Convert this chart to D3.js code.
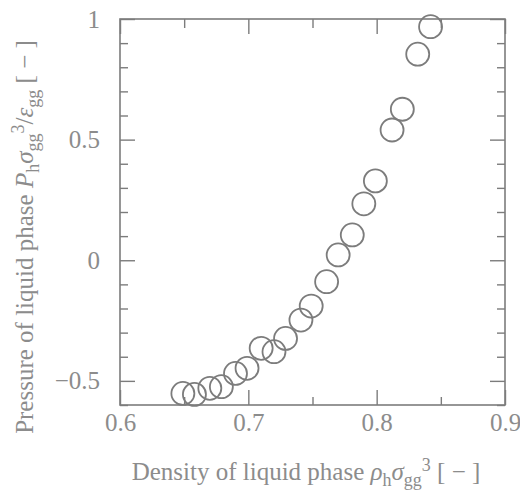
<!DOCTYPE html>
<html>
<head>
<meta charset="utf-8">
<script src="https://cdn.jsdelivr.net/npm/d3@7"></script>
<style>
  body { margin: 0; background: #fff; }
  svg { display: block; }
</style>
</head>
<body>
<div id="chart"></div>
<script>
// Density of liquid phase (x) and pressure of liquid phase (y)
const density = [0.649, 0.658, 0.670, 0.679, 0.690, 0.699, 0.710, 0.720, 0.729, 0.741,
                 0.749, 0.761, 0.770, 0.781, 0.790, 0.799, 0.812, 0.820, 0.832, 0.842];
const pressure = [-0.552, -0.556, -0.531, -0.524, -0.469, -0.448, -0.365, -0.379, -0.324, -0.248,
                  -0.190, -0.089, 0.022, 0.105, 0.234, 0.329, 0.540, 0.626, 0.854, 0.968];

// Tick values
const xMajor = [0.6, 0.7, 0.8, 0.9];
const xMinor = [0.65, 0.75, 0.85];
const yMajor = [-0.5, 0, 0.5, 1];
const yMinor = [-0.6, -0.4, -0.3, -0.2, -0.1, 0.1, 0.2, 0.3, 0.4, 0.6, 0.7, 0.8, 0.9];

const W = 520, H = 503;
const margin = { top: 19, right: 15, bottom: 98, left: 120 };
const width = W - margin.left - margin.right;
const height = H - margin.top - margin.bottom;

const lineColor = "#7c7c7c";
const textColor = "#8c8c8c";
const serif = "'Liberation Serif', 'Times New Roman', Times, serif";

const svg = d3.select("#chart").append("svg")
    .attr("width", W)
    .attr("height", H);

const g = svg.append("g")
    .attr("transform", "translate(" + margin.left + "," + margin.top + ")");

const x = d3.scaleLinear().domain([0.6, 0.9]).range([0, width]);
const y = d3.scaleLinear().domain([-0.6, 1]).range([height, 0]);

// helper to style an axis group
function styleAxis(sel) {
    sel.attr("font-family", serif).attr("font-size", 25);
    sel.select(".domain").remove();
    sel.selectAll("line").attr("stroke", lineColor).attr("stroke-width", 1.4);
    sel.selectAll("text").attr("fill", textColor);
}

const fmtX = d3.format(".1f");
const fmtY = d => d === 0 || d === 1 ? String(d) : d3.format(".1f")(d);

// bottom axis (major with labels, minor without)
g.append("g").attr("transform", "translate(0," + height + ")")
    .call(d3.axisBottom(x).tickValues(xMajor).tickSize(-15).tickPadding(8).tickFormat(fmtX))
    .call(styleAxis);
g.append("g").attr("transform", "translate(0," + height + ")")
    .call(d3.axisBottom(x).tickValues(xMinor).tickSize(-8).tickFormat(""))
    .call(styleAxis);

// top axis
g.append("g")
    .call(d3.axisTop(x).tickValues(xMajor).tickSize(-15).tickFormat(""))
    .call(styleAxis);
g.append("g")
    .call(d3.axisTop(x).tickValues(xMinor).tickSize(-9).tickFormat(""))
    .call(styleAxis);

// left axis
g.append("g")
    .call(d3.axisLeft(y).tickValues(yMajor).tickSize(-15).tickPadding(20).tickFormat(fmtY))
    .call(styleAxis);
g.append("g")
    .call(d3.axisLeft(y).tickValues(yMinor).tickSize(-8).tickFormat(""))
    .call(styleAxis);

// right axis
g.append("g").attr("transform", "translate(" + width + ",0)")
    .call(d3.axisRight(y).tickValues(yMajor).tickSize(-15).tickFormat(""))
    .call(styleAxis);
g.append("g").attr("transform", "translate(" + width + ",0)")
    .call(d3.axisRight(y).tickValues(yMinor).tickSize(-8).tickFormat(""))
    .call(styleAxis);

// frame
g.append("rect")
    .attr("width", width)
    .attr("height", height)
    .attr("fill", "none")
    .attr("stroke", lineColor)
    .attr("stroke-width", 1.6);

// data points
g.selectAll("circle.pt")
    .data(density.map((d, i) => [d, pressure[i]]))
    .enter().append("circle")
    .attr("class", "pt")
    .attr("cx", d => x(d[0]))
    .attr("cy", d => y(d[1]))
    .attr("r", 11.5)
    .attr("fill", "none")
    .attr("stroke", lineColor)
    .attr("stroke-width", 1.8);

// axis label pieces: [text, style] where style is n(ormal), i(talic), sub, sup
function addLabel(textSel, parts) {
    let shift = 0;
    parts.forEach(p => {
        const t = textSel.append("tspan").text(p[0]);
        let target = 0;
        if (p[1] === "sub") target = 6;
        if (p[1] === "sup") target = -9;
        if (target !== shift) t.attr("dy", target - shift);
        shift = target;
        if (p[1] === "sub" || p[1] === "sup") t.attr("font-size", 18);
        if (p[1] === "i") t.attr("font-style", "italic");
    });
}

// x label
const xl = svg.append("text")
    .attr("x", 306)
    .attr("y", 480)
    .attr("text-anchor", "middle")
    .attr("font-family", serif)
    .attr("font-size", 25)
    .attr("fill", textColor);
addLabel(xl, [
    ["Density of liquid phase ", "n"],
    ["ρ", "i"], ["h", "sub"], ["σ", "i"], ["gg", "sub"], ["3", "sup"],
    [" [ − ]", "n"]
]);

// y label
const yl = svg.append("text")
    .attr("transform", "translate(33," + 237 + ") rotate(-90)")
    .attr("text-anchor", "middle")
    .attr("font-family", serif)
    .attr("font-size", 25)
    .attr("fill", textColor);
addLabel(yl, [
    ["Pressure of liquid phase ", "n"],
    ["P", "i"], ["h", "sub"], ["σ", "i"], ["gg", "sub"], ["3", "sup"],
    ["/", "n"], ["ε", "i"], ["gg", "sub"],
    [" [ − ]", "n"]
]);
</script>
</body>
</html>
